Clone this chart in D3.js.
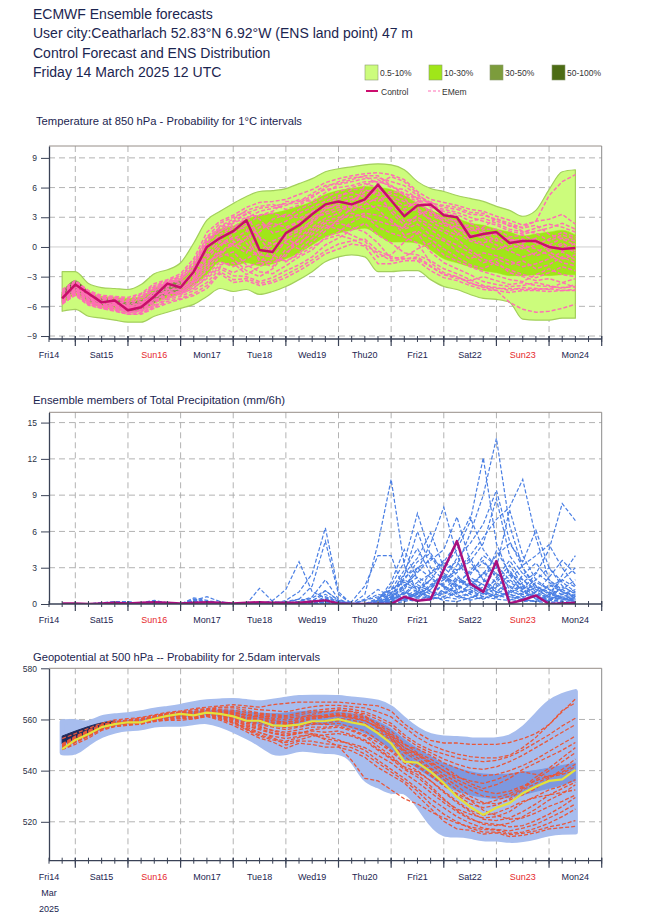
<!DOCTYPE html>
<html><head><meta charset="utf-8">
<script src="https://cdn.jsdelivr.net/npm/d3@7/dist/d3.min.js"></script>
<style>
html,body{margin:0;padding:0;background:#fff;}
svg{display:block;font-family:"Liberation Sans",Arial,Helvetica,sans-serif;}
</style></head><body>
<svg id="chart" width="650" height="916"></svg>
<script>
// ---------------- DATA ----------------
const hours = [6,12,18,24,30,36,42,48,54,60,66,72,78,84,90,96,102,108,114,120,126,132,138,144,150,156,162,168,174,180,186,192,198,204,210,216,222,228,234,240];
const dayLabels = ["Fri14","Sat15","Sun16","Mon17","Tue18","Wed19","Thu20","Fri21","Sat22","Sun23","Mon24"];
const redDays = ["Sun16","Sun23"];
const headerLines = ["ECMWF Ensemble forecasts","User city:Ceatharlach 52.83°N 6.92°W (ENS land point) 47 m","Control Forecast and ENS Distribution","Friday 14 March 2025 12 UTC"];
const legendLabels = ["0.5-10%","10-30%","30-50%","50-100%"];
const tempTicks = [-9,-6,-3,0,3,6,9];
const precipTicks = [0,3,6,9,12,15];
const geoTicks = [520,540,560,580];

// Temperature 850 hPa (°C)
const tempControl = [-5.2,-3.8,-4.7,-5.6,-5.4,-6.4,-6.1,-5.0,-3.7,-4.1,-2.5,0.0,0.9,1.6,2.7,-0.3,-0.5,1.4,2.2,3.3,4.3,4.6,4.3,4.8,6.3,4.7,3.1,4.2,4.3,3.2,3.0,1.0,1.3,1.5,0.4,0.6,0.6,0.0,-0.2,-0.1];
const tempOuterLo = [-6.5,-6.3,-7.0,-7.2,-7.4,-7.6,-7.6,-7.0,-6.6,-6.2,-5.8,-5.0,-4.2,-4.5,-4.3,-4.8,-4.5,-4.0,-3.3,-2.5,-1.5,-1.0,-0.8,-1.0,-2.5,-2.5,-2.4,-2.4,-3.3,-4.0,-4.3,-4.8,-5.2,-5.3,-5.6,-7.3,-7.4,-7.4,-7.2,-7.2];
const tempOuterHi = [-2.5,-2.5,-3.7,-4.1,-4.2,-4.3,-3.8,-2.7,-2.3,-1.6,0.4,2.7,3.6,4.4,5.1,5.6,5.7,5.9,6.4,6.9,7.6,7.9,8.1,8.3,8.4,8.3,7.8,6.6,5.9,5.6,5.2,4.9,4.6,4.1,3.7,3.1,3.7,5.8,7.6,7.8];
const temp10Lo = [-5.8,-4.9,-5.6,-6.1,-6.3,-6.6,-6.4,-5.7,-5.1,-4.7,-3.9,-2.8,-1.5,-1.9,-1.6,-1.9,-1.7,-1.2,-0.6,0.2,1.0,1.4,1.7,1.9,1.2,0.5,0.5,0.4,-0.3,-1.2,-1.6,-2.0,-2.4,-2.6,-2.9,-2.9,-2.8,-2.9,-2.8,-2.8];
const temp10Hi = [-4.6,-3.5,-4.5,-5.0,-5.1,-5.2,-5.0,-4.2,-3.7,-3.2,-1.8,0.5,1.8,2.1,2.8,3.2,3.4,3.7,4.1,4.6,5.3,5.7,5.9,6.1,6.0,5.8,5.2,4.4,3.7,3.2,2.9,2.4,2.2,1.8,1.5,1.1,1.3,1.5,1.7,1.2];
const temp30Lo = [-5.6,-4.6,-5.4,-5.9,-6.0,-6.6,-6.3,-5.6,-4.8,-4.4];
const temp30Hi = [-4.6,-3.4,-4.6,-5.2,-5.3,-5.6,-5.4,-4.5,-3.8,-3.4];
const temp50Lo = [-5.2,-4.3,-5.0];
const temp50Hi = [-4.8,-3.6,-4.6];
const tempMembers = [
 [-4.3,-3.4,-4.4,-4.9,-5.0,-5.1,-4.7,-3.7,-3.3,-2.7,-1.2,1.5,2.6,3.2,4.0,4.5,4.6,4.8,5.3,5.8,6.5,6.9,7.2,7.4,7.5,7.3,6.8,5.6,4.8,4.5,4.2,3.8,3.6,3.1,2.7,2.2,2.6,2.8,3.3,2.3],
 [-5.7,-4.9,-5.9,-6.2,-6.5,-6.8,-6.8,-6.2,-5.7,-5.3,-4.9,-4.2,-2.7,-3.6,-3.4,-3.9,-3.6,-3.1,-2.4,-1.6,-0.7,-0.2,0.3,0.1,-1.7,-1.7,-1.4,-1.4,-2.4,-3.1,-3.4,-3.9,-4.3,-4.4,-4.6,-4.4,-4.4,-4.5,-4.4,-4.4],
 [-5.0,-4.1,-5.0,-5.5,-5.6,-6.0,-5.6,-4.7,-4.2,-3.6,-2.8,-0.9,0.5,0.8,1.6,2.3,2.0,2.6,3.4,4.0,4.6,5.2,5.5,5.0,4.6,5.4,4.9,3.6,2.8,2.2,1.9,1.3,0.9,0.2,-0.4,-1.0,-0.6,0.2,0.9,0.6],
 [-5.4,-4.5,-5.4,-5.9,-6.1,-6.3,-6.2,-5.5,-4.8,-4.6,-3.9,-2.8,-1.5,-2.0,-1.2,-0.4,0.6,1.2,1.8,2.6,3.5,4.0,3.6,4.3,5.0,3.8,2.6,3.0,2.2,1.5,0.8,-0.3,-1.2,-1.8,-2.3,-2.8,-3.1,-2.6,-2.0,-2.4],
 [-4.7,-3.6,-4.6,-5.1,-5.3,-5.5,-5.0,-4.0,-3.5,-3.0,-1.8,0.6,1.8,2.5,3.3,0.9,-0.8,-1.5,-0.6,0.5,1.6,2.8,3.9,6.2,6.8,6.0,5.8,4.9,4.0,3.6,3.3,2.6,2.9,2.4,1.8,1.5,1.9,2.3,2.0,1.5],
 [-5.5,-4.3,-5.2,-6.0,-5.9,-6.6,-6.5,-5.8,-4.4,-4.9,-3.3,-1.8,-0.4,-1.2,-2.4,-3.0,-2.2,-0.6,0.4,1.3,2.2,1.8,1.2,0.6,-1.0,-0.8,0.5,1.4,-0.5,-1.6,-2.2,-2.8,-3.5,-3.8,-4.0,-3.9,-3.6,-3.9,-4.2,-3.8],
 [-4.9,-3.9,-4.8,-5.3,-5.2,-5.7,-5.3,-4.3,-3.8,-3.3,-2.2,-0.2,1.3,2.0,2.9,3.6,3.9,4.2,4.8,4.6,5.5,6.3,6.6,6.9,7.0,6.6,6.2,5.2,4.5,4.0,3.8,3.3,3.2,2.8,2.4,1.9,2.2,1.3,0.8,0.2],
 [-5.6,-4.7,-5.7,-6.1,-6.3,-6.5,-6.6,-6.0,-5.3,-5.0,-4.4,-3.6,-2.2,-2.9,-3.0,-3.5,-3.1,-2.4,-1.8,-1.0,0.2,0.9,1.7,2.4,1.2,0.4,-0.6,-0.8,-1.4,-2.2,-2.7,-3.3,-3.9,-4.1,-4.4,-4.1,-4.2,-4.3,-3.6,-3.2],
 [-5.2,-4.0,-5.1,-5.7,-5.8,-6.2,-5.9,-5.1,-4.0,-4.0,-3.0,-1.2,0.2,1.0,0.4,-1.2,-1.6,-0.9,1.0,2.0,2.9,3.4,4.6,5.6,5.9,4.8,4.2,4.4,3.6,2.9,2.6,2.0,1.6,1.2,0.8,0.4,0.9,-0.5,-1.2,-0.8],
 [-5.3,-4.4,-5.5,-5.8,-6.0,-6.1,-6.0,-5.3,-5.0,-4.4,-3.6,-2.4,-1.0,-0.5,-1.8,-2.5,-2.7,-1.9,-1.0,-0.3,1.0,1.5,2.5,3.2,2.0,1.4,1.0,0.4,-1.6,-2.6,-3.0,-3.6,-4.1,-4.4,-5.6,-6.3,-6.6,-6.5,-6.2,-5.8],
 [-4.8,-3.7,-4.7,-5.2,-5.4,-5.8,-5.5,-4.6,-3.6,-3.2,-2.0,0.3,2.1,2.8,3.7,4.1,4.3,3.8,4.2,5.0,6.0,6.6,7.0,7.1,6.4,7.1,6.6,5.4,4.2,3.3,2.4,1.6,2.0,2.9,2.1,2.0,2.6,5.2,6.6,7.3],
 [-5.1,-4.2,-5.3,-5.4,-5.7,-5.9,-5.8,-4.9,-4.6,-3.8,-2.6,-0.6,0.9,0.2,-0.6,1.5,2.8,3.3,2.9,3.5,4.0,4.8,5.1,4.5,3.8,2.5,1.8,2.3,1.2,0.6,-0.4,-1.2,-0.6,-0.9,-1.4,-2.0,-1.7,-1.2,-0.5,-1.3],
 [-5.5,-4.6,-5.6,-5.9,-6.2,-6.4,-6.3,-5.6,-5.1,-4.8,-4.1,-3.2,-2.0,-2.6,-2.0,-1.6,-0.2,0.4,-0.2,0.9,1.9,2.4,2.0,1.5,0.4,-1.2,-1.0,-0.2,0.4,-0.8,-1.4,-2.0,-2.5,-2.9,-3.3,-3.5,-2.8,-2.2,-2.8,-3.0],
 [-4.5,-3.5,-4.5,-5.0,-5.1,-5.3,-4.8,-3.9,-3.4,-2.9,-1.5,1.0,2.4,3.0,3.6,2.8,1.4,1.8,2.5,3.0,3.3,3.7,4.2,3.8,4.2,4.0,3.5,3.8,3.2,2.6,1.4,0.6,0.2,-0.3,0.3,-0.2,0.2,0.8,1.5,1.0],
 [-5.3,-4.2,-5.2,-5.6,-5.5,-6.2,-5.9,-4.8,-3.9,-3.9,-2.4,0.2,1.0,1.9,2.4,1.0,0.2,1.0,1.6,2.4,3.8,4.4,4.8,5.3,5.6,3.5,2.2,3.2,3.8,2.4,2.0,0.8,0.4,0.9,-0.2,0.2,-0.2,-0.8,-1.6,-1.9],
 [-5.0,-3.9,-4.9,-5.7,-5.7,-6.3,-6.1,-5.2,-4.3,-4.3,-3.2,-1.5,-0.8,0.4,1.2,-1.5,-2.0,-0.2,0.8,1.8,2.6,3.0,3.0,3.4,3.2,2.8,1.2,1.6,0.8,-0.2,-1.0,-1.8,-2.2,-1.5,-2.6,-3.0,-3.4,-3.2,-3.6,-4.1],
 [-5.6,-4.8,-5.8,-6.0,-6.4,-6.7,-6.4,-5.4,-4.6,-4.5,-3.5,-2.0,0.0,1.4,2.2,3.2,3.4,3.0,3.8,4.4,5.0,5.6,6.0,6.4,6.0,5.0,4.6,4.0,2.6,1.8,1.2,2.4,1.8,1.8,1.0,1.2,0.6,-0.2,0.4,-0.4],
 [-4.9,-3.8,-5.1,-5.5,-5.6,-6.0,-5.7,-4.5,-3.4,-3.6,-2.7,0.8,1.6,2.2,1.8,-0.8,-1.0,0.6,1.3,2.8,3.9,4.2,4.0,4.6,6.1,4.5,3.8,4.6,4.6,3.4,3.1,1.2,1.0,1.4,0.6,0.8,0.4,0.2,-0.4,0.4],
 [-4.6,-3.6,-4.5,-5.2,-5.2,-5.4,-5.1,-4.1,-3.6,-3.1,-1.6,0.9,2.0,2.6,3.4,3.9,4.1,4.4,4.4,5.2,5.8,6.0,6.2,6.6,6.6,6.2,5.2,4.6,4.1,3.8,3.5,3.0,2.6,2.2,1.6,1.3,1.6,1.9,2.4,1.8],
 [-5.6,-4.5,-5.6,-6.0,-6.2,-6.6,-6.4,-5.9,-5.2,-4.7,-4.2,-3.0,-1.8,-1.6,-2.8,-2.0,-1.2,-1.4,-0.8,0.0,0.8,1.2,0.8,0.2,-0.6,-1.4,-1.2,-1.0,-1.9,-2.8,-3.2,-3.4,-3.0,-3.4,-3.8,-3.6,-3.9,-4.0,-4.1,-4.0],
 [-5.1,-4.0,-5.0,-5.4,-5.4,-6.1,-5.8,-5.0,-4.4,-4.2,-3.4,-1.0,0.6,0.0,0.8,2.0,2.4,2.0,2.6,3.6,4.2,5.0,5.8,5.8,5.2,5.6,5.4,4.8,3.4,2.8,2.2,1.8,1.4,0.6,0.9,0.0,-0.9,-0.4,0.2,-0.6],
 [-5.4,-4.4,-5.3,-5.8,-5.8,-6.4,-6.2,-5.4,-4.7,-4.6,-3.8,-2.2,-0.6,0.6,-0.2,-0.8,0.2,0.8,0.2,1.6,2.4,2.6,3.4,3.0,2.6,2.2,2.0,2.8,1.8,0.8,0.2,-0.6,-1.6,-1.2,-1.8,-1.4,-2.2,-1.8,-1.0,-1.6],
 [-4.6,-3.5,-4.6,-5.1,-5.1,-5.6,-5.2,-4.2,-3.6,-3.4,-2.0,0.4,1.6,2.4,3.0,3.2,3.6,4.6,4.6,5.4,6.2,6.4,6.8,7.2,7.2,6.2,5.4,5.0,4.4,4.2,4.0,3.5,3.4,2.6,2.2,1.6,1.4,0.6,1.2,0.8],
 [-5.8,-4.8,-5.8,-6.2,-6.4,-6.8,-6.7,-6.1,-5.5,-5.2,-4.7,-3.9,-2.5,-3.3,-3.2,-3.7,-3.4,-2.8,-2.1,-1.3,-0.4,0.3,0.6,0.8,-0.4,-1.0,-1.2,-1.2,-2.0,-2.8,-3.0,-3.7,-4.0,-4.2,-4.2,-4.3,-4.3,-4.2,-4.4,-4.3]
];

// Total precipitation (mm/6h)
const precipControl = [0.05,0.05,0,0.05,0.1,0.05,0.1,0.15,0.1,0.05,0.1,0.15,0.1,0.05,0.1,0.15,0.1,0.1,0.1,0.2,0.3,0.05,0,0,0,0,0.6,0.27,0.4,2.85,5.2,1.7,1.0,3.55,0.05,0.33,0.7,0,0.05,0.1];
const precipMembers = [
 [0,0,0,0.1,0.1,0,0,0.1,0,0,0.2,0.1,0,0,0,0,0.1,0.2,0.4,0.3,0.8,0.2,0,0.3,0.6,1.2,2.0,1.4,0.8,1.6,3.2,5.8,9.0,13.7,6.5,3.0,1.2,0.6,0.4,0.2],
 [0,0,0,0,0.2,0.2,0,0,0.1,0,0,0.1,0,0,0,0,0,0.1,0.2,0.5,1.1,0.3,0,0,0.2,0.9,1.5,2.6,3.8,3.0,4.5,6.8,12.1,5.0,2.4,1.0,0.5,0.3,0.2,0.1],
 [0,0,0,0,0,0,0,0,0,0,0,0,0,0,0,0,0,0,0,0.1,0.3,0.1,0,0.8,5.0,10.3,3.2,1.0,0.6,0.3,0.2,0.5,0.9,1.6,0.8,0.4,0.2,0.1,0,0],
 [0,0,0,0,0.1,0,0,0.2,0.1,0,0.3,0.2,0.1,0,0,0,0,0,0,0,0.2,0,0,0,0,0.4,0.9,1.8,2.5,3.4,2.8,4.0,5.5,7.0,8.0,10.3,5.5,2.0,1.0,0.5],
 [0,0,0,0,0,0,0,0,0,0,0,0,0,0,0,0,0,0,0.1,0.2,0.4,0,0,0,0.2,0.5,1.0,0.6,1.5,2.2,1.8,2.6,3.4,2.5,1.8,1.2,2.5,4.5,8.3,6.9],
 [0,0,0,0.1,0.2,0.1,0,0,0.1,0,0.5,0.3,0.1,0,0,0,0,0.3,1.0,2.5,6.3,1.0,0,0,0.3,1.5,3.5,7.5,4.0,2.2,1.5,1.0,1.8,2.6,1.4,0.8,0.5,0.3,0.6,0.4],
 [0,0,0,0,0,0,0,0,0,0,0.2,0.1,0,0,0,0,0.3,1.2,3.5,1.0,0.5,0.2,0,0,0.1,0.6,1.2,2.8,5.0,8.0,4.0,2.0,1.1,0.6,0.9,1.5,0.8,0.4,0.2,0.1],
 [0,0,0,0,0.1,0.2,0,0,0,0,0.3,0.6,0.2,0,0,1.3,0.2,0.1,0.4,1.5,5.2,0.8,0,0,0,0.4,2.2,3.0,3.6,4.5,7.2,3.5,2.0,1.0,0.6,0.9,1.8,1.2,0.5,0.3],
 [0,0,0,0,0,0,0,0,0,0,0,0,0,0,0,0,0,0,0,0,0,0,0,0.3,0.8,0.5,0.3,1.0,2.0,3.5,5.0,7.2,4.5,3.0,7.8,4.0,2.0,1.2,0.8,0.3],
 [0,0,0,0,0,0,0.1,0.3,0.1,0,0.4,0.2,0,0,0,0,0,0,0.2,0.6,2.0,0.4,0,0,0,0.9,2.5,3.8,5.9,3.0,2.0,1.5,2.5,4.0,5.0,3.5,6.1,3.0,1.5,0.8],
 [0,0,0,0,0,0,0,0,0,0,0,0,0,0,0,0,0,0,0,0.1,0.6,0.2,0,0,0.5,1.0,0.4,0.8,1.4,2.0,3.8,5.0,6.6,9.4,5.2,3.0,1.5,0.8,1.2,2.0],
 [0,0,0,0,0,0,0,0,0,0,0,0,0,0,0,0,0,0,0,0,0.2,0,0,0,0.3,1.8,4.5,2.0,1.0,0.6,1.2,2.2,1.6,1.0,2.0,3.2,4.0,4.9,3.0,1.5],
 [0,0,0,0,0,0,0,0,0,0,0,0,0,0,0,0,0,0,0,0,0,0,0,0,0,0.6,2.4,6.0,3.0,2.0,2.8,3.5,5.0,8.7,4.0,2.5,1.5,1.0,0.5,0.2],
 [0,0,0,0.1,0.1,0.1,0,0,0,0,0.2,0.1,0,0,0,0,0,0,0,0.2,1.1,0.3,0,0,0.4,1.2,1.8,1.2,2.0,1.5,0.8,1.6,2.5,3.0,1.2,0.6,1.0,2.2,3.6,2.5],
 [0,0,0,0,0,0,0,0,0,0,0,0,0,0,0,0,0,0,0,0,0,0,0,0,0,0.3,0.8,1.6,1.0,0.8,1.5,2.8,3.6,2.2,1.0,0.8,1.4,0.9,0.5,0.4],
 [0,0,0,0,0,0.1,0,0,0,0,0,0,0,0,0,0,0,0,0,0,0.4,0.1,0,0,0,0.2,1.0,0.6,0.5,1.2,2.2,1.6,0.9,0.5,0.8,1.8,2.6,1.8,1.0,0.6],
 [0,0,0,0,0,0,0,0,0,0,0,0,0,0,0,0,0,0,0,0,0,0,0,0,0,0.1,0.4,0.2,0.6,1.0,0.6,0.4,1.2,2.0,3.2,1.6,0.8,0.6,2.4,4.0],
 [0,0,0,0,0,0,0,0.1,0,0,0.1,0.1,0,0,0,0,0,0,0,0,0.2,0,0,0,0,0.5,1.4,3.0,2.2,1.4,0.6,0.9,1.4,0.8,0.4,0.2,0.3,0.8,0.5,0.3],
 [0,0,0,0,0,0,0,0,0,0,0,0,0,0,0,0,0,0,0,0,0,0,0,0,0,0,0.2,0.5,0.3,0.9,1.6,1.0,0.6,1.4,2.4,2.0,1.2,0.6,0.4,0.2],
 [0,0,0,0,0,0,0,0,0,0,0,0,0,0,0,0,0,0,0,0,0.1,0,0,0,0,0.8,2.0,3.5,4.2,2.6,1.2,0.6,0.4,0.8,1.5,1.0,0.6,1.6,1.0,0.7],
 [0,0,0,0,0,0,0,0,0,0,0,0,0,0,0,0,0,0,0,0,0,0,0,0,0,0.2,0.6,1.2,0.5,1.8,2.6,3.8,2.0,1.2,0.6,0.4,0.2,0.3,0.8,1.2],
 [0,0,0,0,0,0,0,0,0,0,0,0,0,0,0,0,0,0,0,0,0,0,0,0,0,0.2,0.3,0.8,1.6,2.4,0.8,0.3,0.6,1.8,2.8,1.2,0.4,0.2,0.1,0.1],
 [0,0,0,0,0,0,0,0,0,0,0,0,0,0,0,0,0,0,0,0,0,0,0.2,1.5,4.0,4.0,1.0,0.6,1.2,2.4,1.6,0.8,0.4,1.0,0.6,0.3,0.2,0.6,1.4,0.9],
 [0,0,0,0,0,0,0,0,0,0,0,0,0,0,0,0,0,0,0,0,0.2,0,0,0,0.1,0.6,1.5,2.2,1.6,1.0,2.0,1.4,0.8,2.2,3.6,2.0,1.0,0.5,0.3,0.8],
 [0,0,0,0,0,0,0,0,0,0,0,0,0,0,0,0,0,0,0,0,0,0,0,0,0,0.3,0.9,0.5,1.2,2.8,3.5,2.0,1.0,0.6,1.0,2.4,3.4,2.0,1.2,0.6],
 [0,0,0,0,0,0,0,0,0,0,0,0,0,0,0,0,0,0,0,0.1,0.4,0.1,0,0,0.2,1.2,2.8,4.6,2.5,1.5,0.9,1.2,2.6,1.8,0.8,0.5,1.0,1.4,2.0,1.4],
 [0,0,0,0,0,0,0,0,0,0,0,0,0,0,0,0,0,0,0,0,0,0,0,0.4,1.2,0.6,0.4,0.9,0.6,0.4,1.0,2.4,4.0,3.2,2.0,1.2,2.0,3.0,1.8,1.0],
 [0,0,0,0,0,0,0,0,0,0,0,0,0,0,0,0,0,0,0,0,0.3,0.1,0,0,0,0.1,0.5,1.0,2.6,3.6,2.4,1.2,0.6,0.4,0.3,0.8,1.4,0.9,2.0,3.0],
 [0,0,0,0,0,0,0,0,0,0,0,0,0,0,0,0,0,0,0,0,0,0,0,0,0,0.4,1.6,1.0,0.4,0.6,0.4,0.9,1.8,4.4,2.6,1.4,0.6,0.4,0.8,0.5]
];

// Geopotential 500 hPa (dam)
const geoControl = [548.4,552.0,554.3,557.0,558.2,558.9,558.9,560.3,561.4,562.2,561.6,562.7,562.2,561.2,559.5,559.5,557.7,557.5,558.0,559.3,559.4,560.1,558.8,557.9,554.6,550.7,543.5,543.1,539.6,535.1,529.8,525.9,522.7,525.5,527.3,531.2,533.8,536.0,536.6,540.3];
const geoOuterLo = [547.0,546.5,551.0,554.0,555.6,556.5,556.5,558.0,558.2,558.0,558.8,559.5,558.0,555.9,553.3,550.7,546.5,546.8,548.7,548.1,547.4,547.4,545.5,535.5,534.5,531.0,533.0,527.0,519.0,514.5,515.0,514.5,513.0,513.5,512.5,513.0,514.0,515.5,516.0,516.0];
const geoOuterHi = [559.1,559.4,558.0,561.0,561.5,561.8,562.5,563.8,564.3,565.0,566.3,567.0,567.2,567.6,567.0,566.3,567.2,567.9,568.7,568.7,568.7,568.7,567.9,567.6,567.0,565.0,559.8,555.9,553.3,552.7,552.7,552.0,552.0,552.0,552.7,556.0,561.5,567.0,569.6,570.9];
const geoMidLo = [550.3,551.8,554.0,556.5,557.8,558.5,558.8,559.9,560.8,561.3,561.3,562.0,561.6,560.6,559.0,558.2,557.3,557.0,557.6,558.2,558.0,558.0,556.7,555.0,551.8,548.5,544.5,541.0,537.5,534.5,532.0,530.5,529.5,529.0,529.5,530.5,532.0,533.0,534.5,536.0];
const geoMidHi = [552.3,553.8,555.6,558.0,559.1,559.6,559.9,561.0,561.9,562.5,563.0,563.5,563.8,563.6,563.0,562.3,562.2,562.5,563.0,563.4,563.0,563.0,562.3,561.5,559.2,556.5,552.0,548.5,545.5,542.5,541.0,539.5,538.5,538.5,538.5,539.5,540.0,541.0,542.0,543.0];
const geoCoreLo = [550.5,552.5,554.8,557.0,558.0];
const geoCoreHi = [553.5,555.5,557.3,558.8,559.5];
const geoMembers = [
 [552.5,554.5,556.5,558.5,559.8,560.3,560.8,561.8,562.8,563.3,564.2,564.8,565.3,565.8,565.3,564.8,565.8,566.3,566.8,566.8,566.8,566.8,566.3,565.8,565.3,563.3,558.3,554.8,551.8,550.8,550.8,550.3,550.3,550.3,551.0,552.5,554.5,558.0,563.0,568.0],
 [548.2,550.3,552.7,555.7,557.2,557.7,558.2,559.2,559.7,559.7,560.2,561.2,559.7,557.7,555.2,552.7,551.2,548.7,550.7,550.2,549.2,549.2,547.7,545.2,541.2,538.2,535.2,530.2,525.2,520.2,517.2,516.7,515.2,515.7,514.2,514.7,515.7,517.2,517.7,518.2],
 [549.5,552.8,555.2,557.5,558.8,559.5,559.8,561.0,562.0,562.8,562.5,563.5,563.5,562.8,561.5,560.8,559.5,559.0,560.0,561.2,561.8,562.5,562.0,561.0,558.5,555.5,550.5,547.0,544.5,541.5,538.0,535.0,533.0,534.5,537.0,540.5,543.0,545.5,548.0,551.0],
 [549.0,551.5,553.8,556.5,557.8,558.5,558.5,559.8,560.8,561.5,561.0,562.2,561.5,560.0,557.5,556.0,554.5,553.5,554.5,556.0,556.5,557.0,555.5,553.5,549.5,546.0,541.0,538.5,534.0,529.0,524.5,521.5,519.0,518.5,519.5,522.0,525.0,528.5,531.0,534.5],
 [550.5,553.5,555.8,558.0,559.2,559.8,560.2,561.2,562.2,562.8,563.2,564.0,564.5,564.5,563.5,562.5,562.0,561.5,562.5,563.5,564.0,564.5,564.0,563.0,561.0,558.5,554.0,550.5,548.0,546.5,545.0,544.0,543.5,544.0,545.5,548.0,551.0,554.0,557.5,560.5],
 [548.3,551.0,553.5,556.2,557.5,558.2,558.8,559.8,560.5,560.8,560.8,561.8,560.8,559.0,556.5,554.0,552.5,551.5,553.0,554.5,553.5,552.0,550.0,548.0,544.0,540.5,537.0,533.0,529.0,525.5,522.0,519.5,517.5,517.0,516.5,517.5,519.0,521.5,524.0,527.0],
 [549.8,552.5,554.8,557.3,558.5,559.2,559.5,560.6,561.8,562.5,562.0,563.0,562.8,562.0,560.5,561.5,560.5,559.8,560.5,562.0,563.0,563.5,563.0,561.5,557.5,553.0,547.5,545.0,541.0,537.5,534.0,530.0,527.5,527.0,528.5,530.5,533.0,537.0,540.5,544.5],
 [548.8,551.8,554.0,556.8,558.0,558.6,558.6,560.0,561.0,561.8,561.4,562.4,561.8,560.5,558.5,557.5,555.5,554.5,555.0,554.5,552.0,549.5,544.0,537.0,536.0,532.5,529.0,527.0,524.0,521.5,519.5,518.0,517.0,516.8,515.5,516.0,517.5,519.5,522.0,525.0],
 [550.0,553.0,555.5,557.8,559.0,559.6,560.0,561.0,562.0,562.5,562.8,563.2,563.0,562.5,561.8,561.0,560.0,558.5,558.0,558.5,558.0,558.5,557.0,555.5,552.0,548.0,544.0,541.5,538.0,534.0,531.0,528.5,527.0,528.5,530.0,533.0,536.5,540.0,543.5,547.0],
 [549.2,552.0,554.2,556.6,557.9,558.5,559.0,560.0,561.3,562.0,561.8,562.6,562.5,561.5,559.0,558.0,557.0,556.0,557.0,558.0,558.5,559.5,559.0,558.0,555.5,552.0,547.0,544.0,540.5,536.5,532.5,528.5,524.5,522.5,521.0,521.5,523.5,526.0,528.0,530.5],
 [550.2,553.2,555.5,557.6,559.0,559.8,560.5,561.5,562.5,563.0,563.8,564.2,564.8,565.0,564.5,563.8,563.5,563.0,564.0,565.0,565.5,565.5,565.0,564.5,563.0,561.0,557.0,553.0,550.0,548.0,546.5,545.5,545.0,545.0,546.0,549.0,553.0,558.0,563.5,566.5],
 [548.5,551.2,553.6,556.4,557.6,558.2,558.4,559.5,560.2,560.5,560.5,561.5,560.5,558.8,557.0,555.0,553.0,550.0,551.5,551.5,550.5,550.0,549.0,546.5,543.0,539.5,536.0,532.0,527.0,523.0,520.0,517.5,516.0,516.0,515.0,515.5,516.5,518.0,519.0,520.5],
 [549.6,552.6,555.0,557.2,558.6,559.3,559.7,560.8,561.5,562.0,562.2,563.0,563.2,563.0,562.0,561.5,561.0,560.5,561.0,561.5,561.0,561.5,560.5,559.5,557.0,554.0,549.0,546.5,543.5,540.0,536.5,534.0,532.0,531.0,532.0,534.0,536.0,538.0,539.0,541.5],
 [548.9,551.6,554.0,556.7,557.9,558.7,558.9,560.2,561.0,561.6,561.0,562.0,561.0,559.5,556.0,553.5,552.0,551.0,552.0,553.5,554.0,554.5,553.5,551.5,548.0,544.5,540.5,537.5,533.0,528.5,525.0,523.0,521.5,522.0,524.0,527.5,530.0,532.5,534.0,536.5],
 [549.3,552.3,554.6,557.1,558.4,559.1,559.3,560.5,561.6,562.3,562.0,562.9,562.6,561.8,560.2,559.8,558.5,558.0,559.0,560.5,561.0,561.8,561.0,559.8,556.5,552.5,548.0,546.0,542.5,538.5,535.5,532.5,530.0,529.5,531.0,533.5,537.5,541.0,545.0,549.0],
 [548.6,551.4,553.9,556.5,557.7,558.4,558.6,559.9,560.9,561.4,561.2,562.0,561.6,560.3,558.0,557.0,555.8,555.0,556.0,557.0,557.0,557.5,556.0,554.0,551.0,547.5,543.0,540.0,536.0,532.0,528.0,524.5,522.5,523.5,525.5,528.0,529.5,530.5,531.5,532.5],
 [549.1,552.1,554.4,556.9,558.1,558.8,559.1,560.3,561.2,561.9,561.6,562.5,562.0,561.0,559.0,558.8,557.5,556.8,557.5,558.8,559.5,560.5,559.8,558.5,555.0,551.0,545.5,542.0,538.5,534.5,530.5,527.0,525.5,526.5,529.0,532.5,535.0,537.5,539.5,542.5],
 [549.7,552.7,555.0,557.4,558.7,559.4,559.6,560.7,561.8,562.6,562.4,563.3,563.0,562.2,560.8,560.2,559.0,558.8,559.5,560.8,561.5,562.0,561.5,560.5,558.0,554.5,550.0,548.5,546.0,543.0,541.0,539.0,538.0,538.5,540.0,542.0,544.5,547.5,550.5,553.5],
 [548.7,551.5,553.9,556.6,557.8,558.5,558.7,559.9,560.7,561.2,560.9,561.9,561.2,559.8,557.5,556.5,554.8,553.8,554.8,555.5,555.0,555.5,554.0,552.0,548.5,545.0,541.5,539.5,536.0,531.5,527.5,524.0,521.0,520.5,521.5,524.0,527.0,530.5,533.0,535.5],
 [549.4,552.4,554.8,557.2,558.5,559.2,559.4,560.6,561.7,562.4,562.2,563.1,562.8,561.9,560.5,560.0,558.8,558.2,559.0,560.2,560.8,561.5,560.8,559.5,557.0,553.5,549.0,546.5,543.0,540.0,537.5,536.0,535.0,536.5,538.5,539.5,538.5,537.5,538.5,540.0],
 [548.5,551.1,553.4,556.1,557.4,558.1,558.3,559.4,560.0,560.3,560.3,561.2,560.2,558.5,556.0,554.8,553.5,552.5,553.5,554.0,552.5,551.5,550.5,549.0,546.0,543.0,539.0,535.5,531.5,527.5,524.0,521.0,519.5,519.0,518.0,518.5,520.5,523.0,526.0,529.5],
 [550.1,553.1,555.4,557.7,559.0,559.7,560.1,561.2,562.3,562.8,563.0,563.8,563.8,563.6,562.8,562.0,561.5,561.0,561.8,562.8,563.2,563.8,563.2,562.2,560.0,557.5,553.0,549.5,547.0,544.5,542.5,541.0,540.5,541.5,543.5,546.0,549.0,552.0,555.0,558.0]
];

// ---------------- DRAWING ----------------
const svg = d3.select("#chart");
const TXT = "#1b2550";
const x = d3.scaleLinear().domain([0, 252]).range([49, 601.7]);
const defs = svg.append("defs");

// Header
svg.append("g").selectAll("text").data(headerLines).join("text")
  .attr("x", 33).attr("y", (d, i) => 19 + i * 19.4)
  .attr("font-size", 14).attr("fill", TXT).text(d => d);

// Legend
const legCols = ["#ccfc7c", "#a0e619", "#7c9c3c", "#4c6c14"];
const legX = [365, 429, 490, 552];
const leg = svg.append("g");
leg.selectAll("rect").data(legendLabels).join("rect")
  .attr("x", (d, i) => legX[i]).attr("y", 65).attr("width", 13).attr("height", 15)
  .attr("fill", (d, i) => legCols[i]).attr("stroke", "#8a9a70").attr("stroke-width", 0.6);
leg.selectAll("text").data(legendLabels).join("text")
  .attr("x", (d, i) => legX[i] + 15).attr("y", 76).attr("font-size", 8.5).attr("fill", "#333").text(d => d);
leg.append("line").attr("x1", 366).attr("x2", 378).attr("y1", 91).attr("y2", 91).attr("stroke", "#cc0d6e").attr("stroke-width", 2);
leg.append("text").attr("x", 381).attr("y", 94.5).attr("font-size", 8.5).attr("fill", "#333").text("Control");
leg.append("line").attr("x1", 428).attr("x2", 440).attr("y1", 91).attr("y2", 91).attr("stroke", "#ff6fb4").attr("stroke-width", 1).attr("stroke-dasharray", "3,2");
leg.append("text").attr("x", 442).attr("y", 94.5).attr("font-size", 8.5).attr("fill", "#333").text("EMem");

const minorHours = d3.range(0, 253, 6);
const majorHours = d3.range(12, 253, 24);
const labelHours = d3.range(0, 241, 24);

function panel(o) {
  const g = svg.append("g");
  const y = d3.scaleLinear().domain(o.domain).range([o.bottom, o.top]);
  const cid = "clip-" + o.name;
  defs.append("clipPath").attr("id", cid).append("rect")
    .attr("x", x(0)).attr("y", o.top).attr("width", x(252) - x(0)).attr("height", o.bottom - o.top);
  g.append("text").attr("x", o.titleX).attr("y", o.titleY).attr("font-size", 11.5).attr("fill", TXT)
    .attr("textLength", o.titleW).attr("lengthAdjust", "spacingAndGlyphs").text(o.title);
  const grid = g.append("g");
  grid.selectAll("line.h").data(o.ticks.filter(t => y(t) > o.top + 1 && y(t) < o.bottom - 1)).join("line")
    .attr("x1", x(0)).attr("x2", x(252)).attr("y1", d => y(d)).attr("y2", d => y(d))
    .attr("stroke", d => d === o.solid ? "#c8c8c8" : "#aaaaaa").attr("stroke-width", 0.9)
    .attr("stroke-dasharray", d => d === o.solid ? null : "6,4");
  grid.selectAll("line.v").data(majorHours.filter(h => h < 252)).join("line")
    .attr("x1", d => x(d)).attr("x2", d => x(d)).attr("y1", o.top).attr("y2", o.bottom)
    .attr("stroke", "#aaaaaa").attr("stroke-width", 0.9).attr("stroke-dasharray", "6,4");
  const body = g.append("g").attr("clip-path", `url(#${cid})`);
  o.draw(body, y);
  g.append("line").attr("x1", x(0)).attr("x2", x(252)).attr("y1", o.top).attr("y2", o.top).attr("stroke", "#968e88").attr("stroke-width", 1);
  g.append("line").attr("x1", x(252)).attr("x2", x(252)).attr("y1", o.top).attr("y2", o.bottom).attr("stroke", "#8a8a8a").attr("stroke-width", 1);
  const ya = g.append("g").attr("transform", `translate(${x(0)},0)`)
    .call(d3.axisLeft(y).tickValues(o.ticks).tickSize(8).tickSizeOuter(0).tickPadding(4));
  ya.select(".domain").attr("stroke", "#3a4256").attr("stroke-width", 1.3);
  ya.selectAll(".tick line").attr("stroke", "#3a4256");
  ya.selectAll(".tick text").attr("font-size", 8.5).attr("fill", "#2a3145").attr("font-family", "Liberation Sans, Arial, sans-serif");
  const xa = g.append("g");
  xa.append("line").attr("x1", x(0)).attr("x2", x(252)).attr("y1", o.bottom).attr("y2", o.bottom).attr("stroke", "#3a4256").attr("stroke-width", 1.3);
  xa.selectAll("line.mi").data(minorHours).join("line")
    .attr("x1", d => x(d)).attr("x2", d => x(d)).attr("y1", o.bottom - 3).attr("y2", o.bottom + 3)
    .attr("stroke", "#3a4256").attr("stroke-width", 1);
  xa.selectAll("line.ma").data(majorHours).join("line")
    .attr("x1", d => x(d)).attr("x2", d => x(d)).attr("y1", o.bottom - 3).attr("y2", o.bottom + 7)
    .attr("stroke", "#3a4256").attr("stroke-width", 1.2);
  xa.selectAll("text").data(labelHours).join("text")
    .attr("x", d => x(d)).attr("y", o.bottom + 19.3).attr("text-anchor", "middle").attr("font-size", 9)
    .attr("fill", (d, i) => redDays.includes(dayLabels[i]) ? "#e6282c" : TXT)
    .text((d, i) => dayLabels[i]);
  return { g, y };
}

const lineOf = y => d3.line().x((d, i) => x(hours[i])).y(d => y(d));
function band(body, y, lo, hi, fill, curve, stroke, sw) {
  const a = d3.area().x((d, i) => x(hours[i])).y0((d, i) => y(lo[i])).y1((d, i) => y(hi[i])).curve(curve);
  body.append("path").attr("d", a(lo)).attr("fill", fill)
    .attr("stroke", stroke || fill).attr("stroke-width", sw || 0.5).attr("stroke-linejoin", "round");
}

// Temperature panel
panel({
  name: "t", top: 146, bottom: 339, domain: [-9.3, 10.2], ticks: tempTicks, solid: 0,
  title: "Temperature at 850 hPa - Probability for 1°C intervals", titleX: 36, titleY: 125, titleW: 266,
  draw: (b, y) => {
    band(b, y, tempOuterLo, tempOuterHi, "#ccfc7c", d3.curveMonotoneX, "#a3cf5c", 1.2);
    band(b, y, temp10Lo, temp10Hi, "#a0e619", d3.curveMonotoneX, "#a0e619", 0.5);
    band(b, y, temp30Lo, temp30Hi, "#7c9c3c", d3.curveMonotoneX, "#7c9c3c", 0.5);
    band(b, y, temp50Lo, temp50Hi, "#4c6c14", d3.curveMonotoneX, "#4c6c14", 0.5);
    b.selectAll("path.m").data(tempMembers).join("path").attr("class", "m")
      .attr("d", lineOf(y)).attr("fill", "none").attr("stroke", "#ff6fb4")
      .attr("stroke-width", 1.5).attr("stroke-dasharray", "4,2");
    b.append("path").attr("d", lineOf(y)(tempControl)).attr("fill", "none")
      .attr("stroke", "#c80d6a").attr("stroke-width", 2.5).attr("stroke-linejoin", "round");
  }
});

// Precipitation panel
panel({
  name: "p", top: 412.3, bottom: 604, domain: [0, 15.85], ticks: precipTicks, solid: null,
  title: "Ensemble members of Total Precipitation (mm/6h)", titleX: 33, titleY: 404, titleW: 252,
  draw: (b, y) => {
    b.selectAll("path.m").data(precipMembers).join("path").attr("class", "m")
      .attr("d", lineOf(y)).attr("fill", "none").attr("stroke", "#4a7fe4")
      .attr("stroke-width", 1.2).attr("stroke-dasharray", "4,2");
    b.append("path").attr("d", lineOf(y)(precipControl)).attr("fill", "none")
      .attr("stroke", "#a80f7e").attr("stroke-width", 2.5).attr("stroke-linejoin", "round");
  }
});

// Geopotential panel
const gp = panel({
  name: "g", top: 668.3, bottom: 860.7, domain: [504.8, 580], ticks: geoTicks, solid: null,
  title: "Geopotential at 500 hPa -- Probability for 2.5dam intervals", titleX: 33, titleY: 660.5, titleW: 287,
  draw: (b, y) => {
    band(b, y, geoOuterLo, geoOuterHi, "#a7bdee", d3.curveBasis, "#a7bdee", 5);
    band(b, y, geoMidLo, geoMidHi, "#7d98df", d3.curveBasis, "#7d98df", 1);
    band(b, y, geoCoreLo, geoCoreHi, "#1f2b5c", d3.curveBasis, "#1f2b5c", 1);
    b.selectAll("path.m").data(geoMembers).join("path").attr("class", "m")
      .attr("d", lineOf(y)).attr("fill", "none").attr("stroke", "#e9573a")
      .attr("stroke-width", 1.3).attr("stroke-dasharray", "4,2");
    b.append("path").attr("d", lineOf(y)(geoControl)).attr("fill", "none")
      .attr("stroke", "#e3e23c").attr("stroke-width", 2.2).attr("stroke-linejoin", "round");
  }
});
gp.g.append("text").attr("x", x(0)).attr("y", 895.5).attr("text-anchor", "middle").attr("font-size", 9).attr("fill", TXT).text("Mar");
gp.g.append("text").attr("x", x(0)).attr("y", 911.5).attr("text-anchor", "middle").attr("font-size", 9).attr("fill", TXT).text("2025");
</script>
</body></html>
